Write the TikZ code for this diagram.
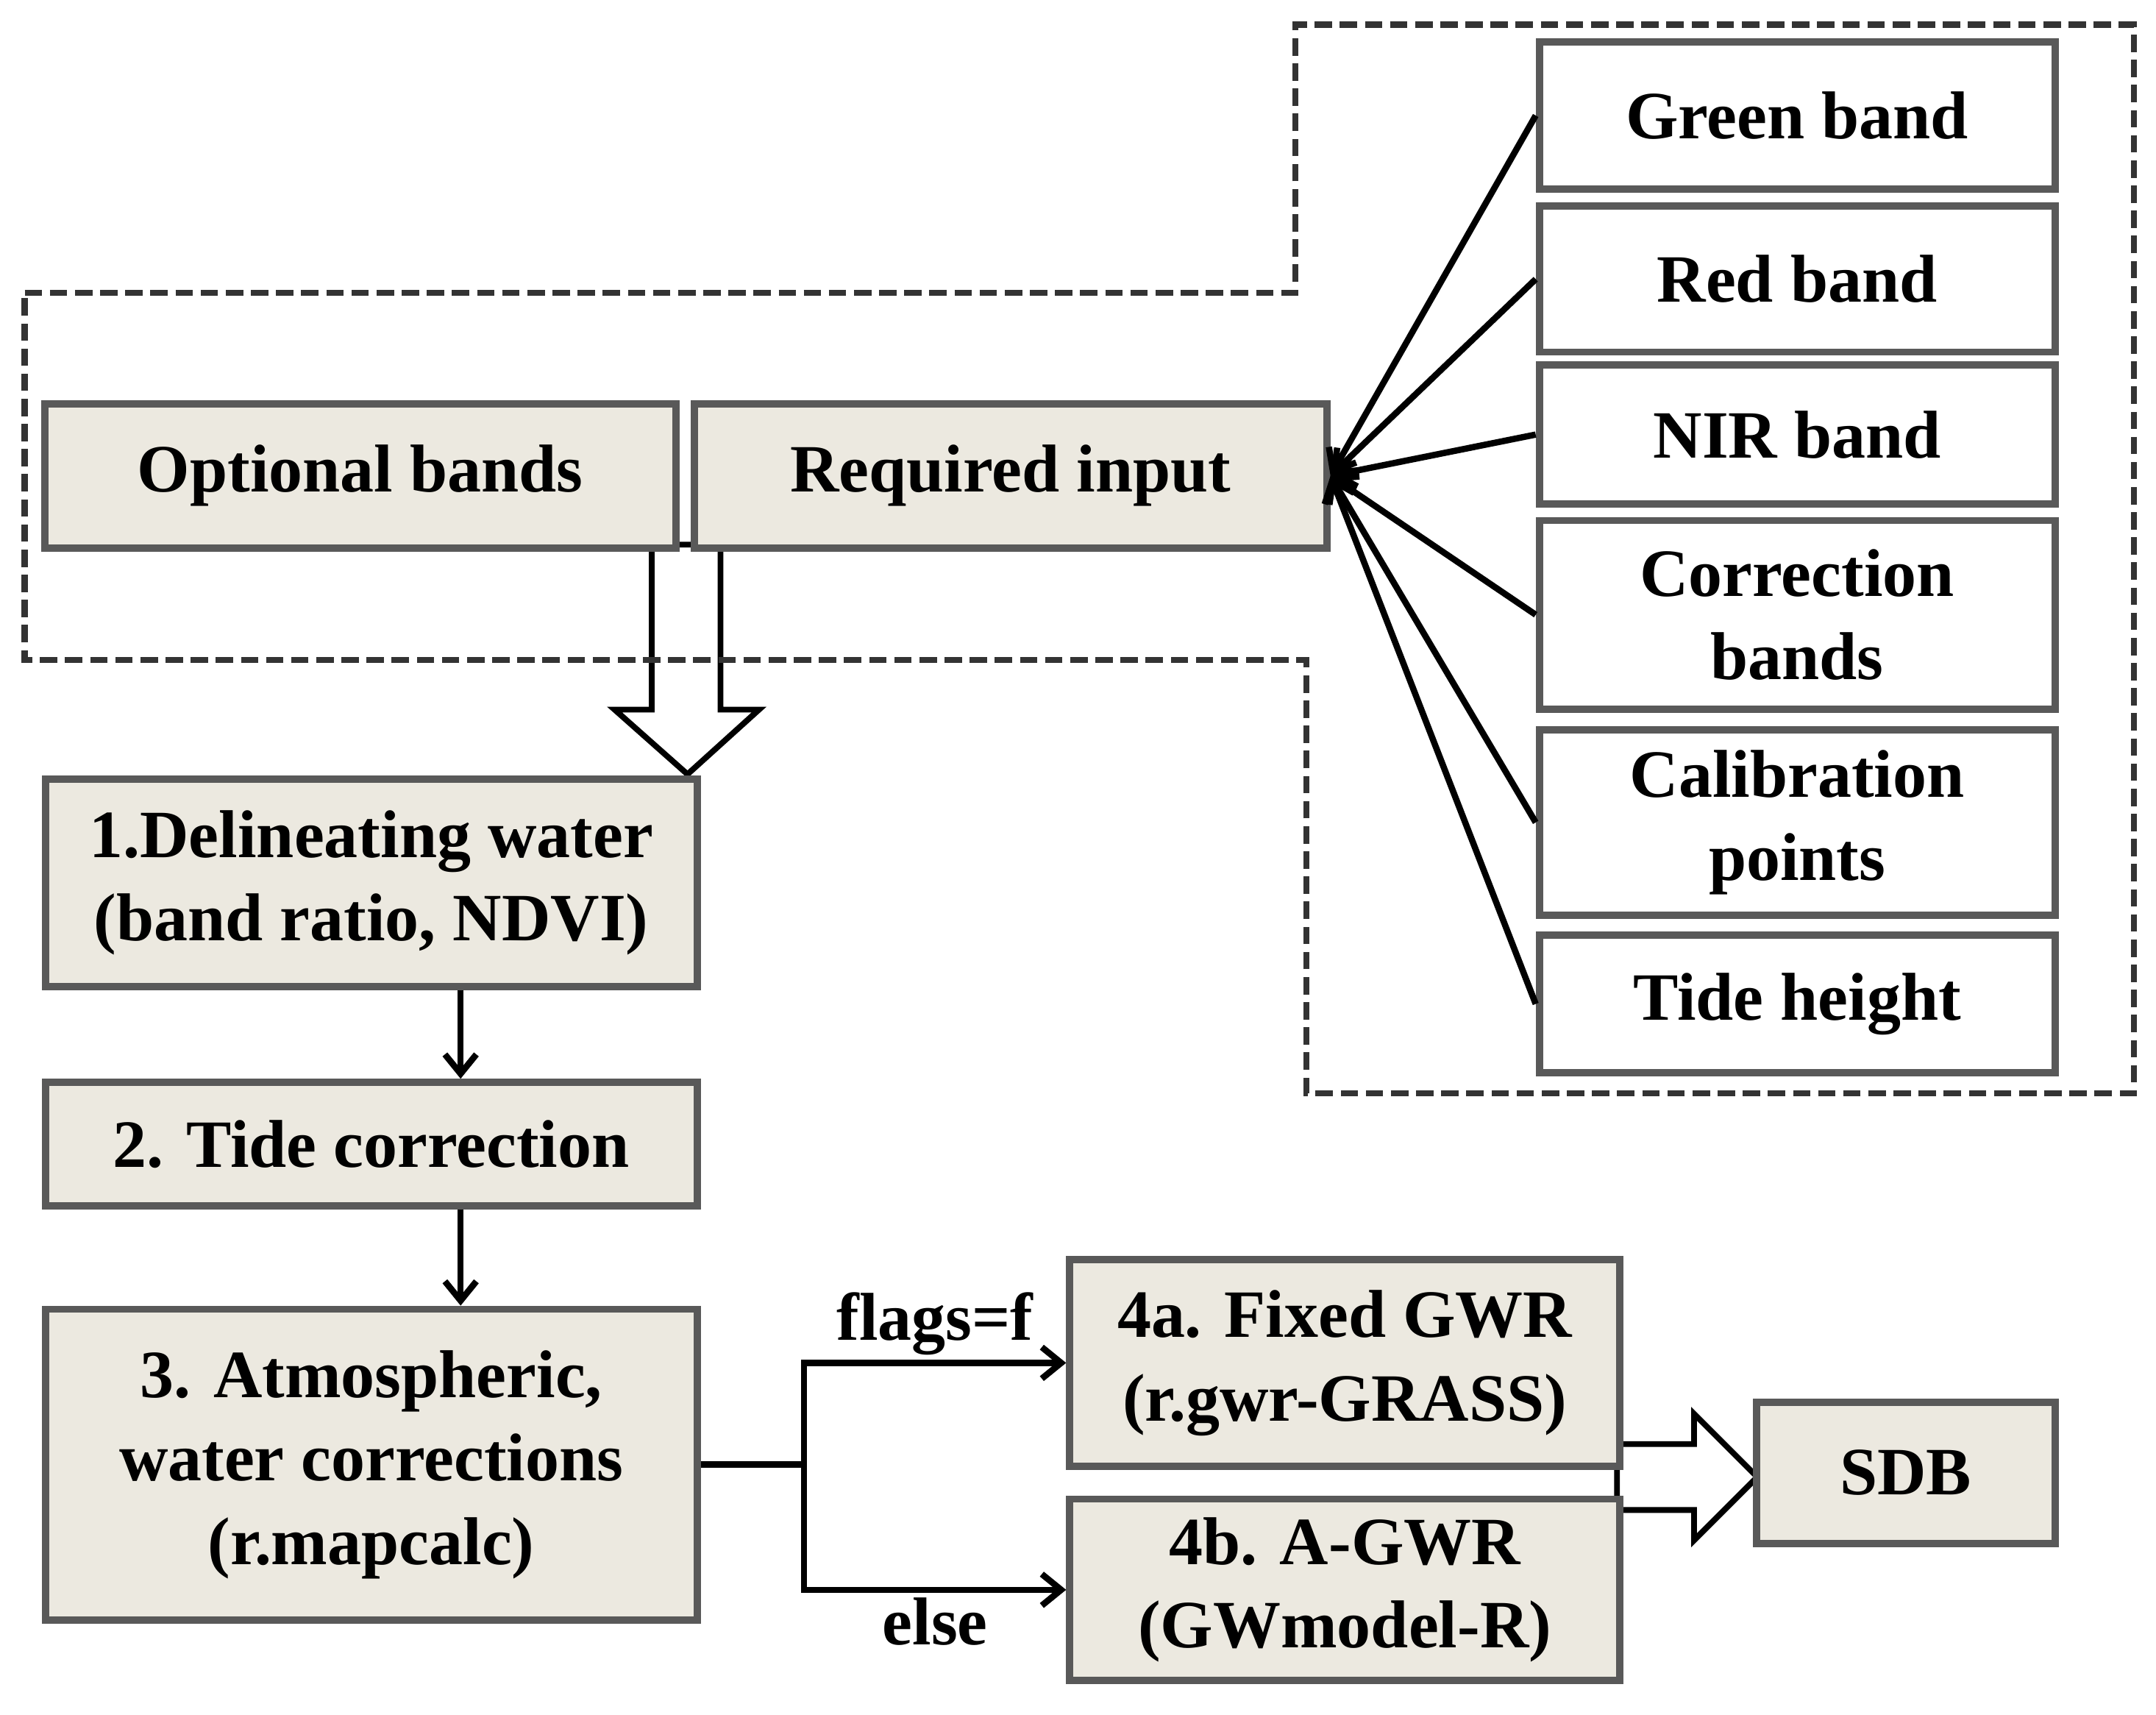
\documentclass[tikz,border=0pt]{standalone}
\usepackage{fontspec}
\setmainfont{Liberation Serif}
\usetikzlibrary{arrows.meta}
\definecolor{boxfill}{RGB}{236,233,224}
\definecolor{boxline}{RGB}{89,89,89}
\definecolor{dashline}{RGB}{51,51,51}

\begin{document}
\begin{tikzpicture}[x=0.1mm, y=-0.1mm, >={Straight Barb[length=4pt,width=6.5pt]},
	box/.style={draw=boxline, line width=1.5pt, fill=boxfill, align=center, inner sep=0pt, font=\fontsize{14}{17.3}\selectfont\bfseries},
	inbox/.style={box, fill=white, minimum width=3.75cm},
	arr/.style={->, line width=1.3pt},
	lbl/.style={inner sep=1pt, font=\fontsize{14}{17}\selectfont\bfseries},
	hollow/.style={draw=black, fill=white, line width=1.2pt}]
	\useasboundingbox (0,0) rectangle (1568,1247);
	% hollow arrows
	\draw[hollow] (474,396) -- (474,516) -- (447,516) -- (500,563) -- (552,516) -- (524,516) -- (524,396) -- cycle;
	\draw[hollow] (1176,1050) -- (1232,1050) -- (1232,1028) -- (1278,1074) -- (1232,1120) -- (1232,1098) -- (1176,1098) -- cycle;
	% input group
	\draw[dashline, line width=1.3pt, dash pattern=on 3.6pt off 1.6pt] (18,213) -- (942,213) -- (942,18) -- (1552,18) -- (1552,795) -- (950,795) -- (950,480) -- (18,480) -- cycle;
	\node[box, minimum width=4.59cm, minimum height=1.05cm] (opt) at (262,346) {Optional bands};
	\node[box, minimum width=4.6cm, minimum height=1.05cm] (req) at (735,346) {Required input};
	\node[inbox, minimum height=1.07cm] (green) at (1307,84) {Green band};
	\node[inbox, minimum height=1.06cm] (red) at (1307,203) {Red band};
	\node[inbox, minimum height=1.01cm] (nir) at (1307,316) {NIR band};
	\node[inbox, minimum height=1.37cm] (corr) at (1307,447) {Correction\\bands};
	\node[inbox, minimum height=1.35cm] (calib) at (1307,598) {Calibration\\points};
	\node[inbox, minimum height=1.0cm] (tide) at (1307,730) {Tide height};
	\foreach \n in {green,red,nir,corr,calib,tide}
		\draw[arr] (\n.west) -- (req.east);
	% processing steps
	\node[box, minimum width=4.74cm, minimum height=1.51cm] (s1) at (270,642) {1.Delineating water\\(band ratio, NDVI)};
	\node[box, minimum width=4.74cm, minimum height=0.9cm] (s2) at (270,832) {2. Tide correction};
	\node[box, minimum width=4.74cm, minimum height=2.26cm] (s3) at (270,1065) {3. Atmospheric,\\water corrections\\(r.mapcalc)};
	\node[box, minimum width=4.0cm, minimum height=1.5cm] (s4a) at (978,991) {4a. Fixed GWR\\(r.gwr-GRASS)};
	\node[box, minimum width=4.0cm, minimum height=1.32cm] (s4b) at (978,1156) {4b. A-GWR\\(GWmodel-R)};
	\node[box, minimum width=2.17cm, minimum height=1.03cm] (sdb) at (1386,1071) {SDB};
	\draw[arr] ([xshift=0.65cm]s1.south) -- ([xshift=0.65cm]s2.north);
	\draw[arr] ([xshift=0.65cm]s2.south) -- ([xshift=0.65cm]s3.north);
	\draw[line width=1.3pt] (s3.east) -- ++(0.75cm,0) coordinate (split);
	\draw[arr] (split) |- (s4a.west) node[pos=0.75, above, lbl] (flag) {flags=f};
	\draw[arr] (split) |- (s4b.west) node[pos=0.75, below, lbl] (other) {else};
\end{tikzpicture}
\end{document}
